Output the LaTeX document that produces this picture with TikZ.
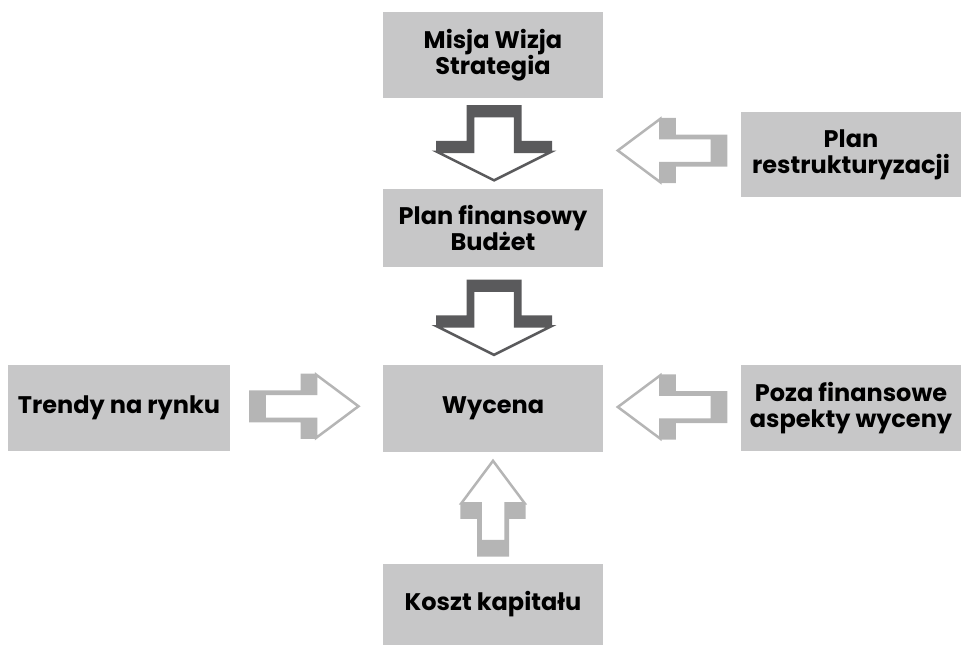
\documentclass[tikz,border=0pt]{standalone}
\usepackage{fontspec}
\setmainfont{Poppins}
\usetikzlibrary{calc}

\definecolor{boxgray}{HTML}{C7C7C8}
\definecolor{darkarrow}{HTML}{5A5A5C}
\definecolor{lightarrow}{HTML}{B5B5B5}

% Extruded block arrow pointing along +x, centred on the pic origin.
% #1 length, #2 head length, #3 depth, #4 head half-width,
% #5 back shaft half-width, #6 face shaft half-width, #7 colour
\newcommand\extrudedarrow[7]{%
  \fill[#7]
    ({-#1/2},{-#5}) -- ({#1/2-#2-#3},{-#5}) -- ({#1/2-#2-#3},{-#4})
    -- ({#1/2-#2},{-#4}) -- ({#1/2-#2},{#4}) -- ({#1/2-#2-#3},{#4})
    -- ({#1/2-#2-#3},{#5}) -- ({-#1/2},{#5}) -- cycle;
  \filldraw[fill=white, draw=#7, line width=2.5pt, line join=miter]
    ({-#1/2+#3},{-#6}) -- ({#1/2-#2},{-#6}) -- ({#1/2-#2},{-#4+1})
    -- ({#1/2-1.5},0) -- ({#1/2-#2},{#4-1}) -- ({#1/2-#2},{#6})
    -- ({-#1/2+#3},{#6}) -- cycle;
}

\tikzset{
  box/.style={rectangle, fill=boxgray, inner sep=0pt, align=center,
    minimum width=220pt, font=\fontsize{24}{26}\selectfont\bfseries},
  pics/bigarrow/.style={code={\extrudedarrow{76.7}{30}{11}{58}{27.5}{21}{darkarrow}}},
  pics/sidearrow/.style={code={\extrudedarrow{#1}{44}{15.5}{32.7}{16}{12.5}{lightarrow}}},
}

\begin{document}
\begin{tikzpicture}[x=1pt, y=-1pt]
  \useasboundingbox (0,0) rectangle (961,646);

  % boxes
  \node[box, minimum height=86pt] (misja)   at (493,55)    {Misja Wizja\\Strategia};
  \node[box, minimum height=78pt] (planfin) at (493,228)   {Plan finansowy\\Budżet};
  \node[box, minimum height=85pt] (restr)   at (851,154.5) {Plan\\restrukturyzacji};
  \node[box, minimum height=86pt, minimum width=222pt] (trendy) at (119,408) {Trendy na rynku};
  \node[box, minimum height=87pt] (wycena)  at (493,408.5) {Wycena};
  \node[box, minimum height=86pt] (poza)    at (851,408)   {Poza finansowe\\aspekty wyceny};
  \node[box, minimum height=81pt] (koszt)   at (493,604.5) {Koszt kapitału};

  % connectors
  \pic[rotate=-90] at ($(misja.south)!0.5!(planfin.north)+(1,0)$) {bigarrow};
  \pic[rotate=-90] at ($(planfin.south)!0.5!(wycena.north)+(1,2)$) {bigarrow};
  \pic[rotate=180] at ($(restr.west)+(-69,-4)$) {sidearrow=111};
  \pic at ($(trendy.east)!0.5!(wycena.west)+(-2,-2)$) {sidearrow=111};
  \pic[rotate=180] at ($(poza.west)+(-69,-1)$) {sidearrow=111};
  \pic[rotate=90] at ($(wycena.south)!0.5!(koszt.north)$) {sidearrow=97.4};
\end{tikzpicture}
\end{document}
